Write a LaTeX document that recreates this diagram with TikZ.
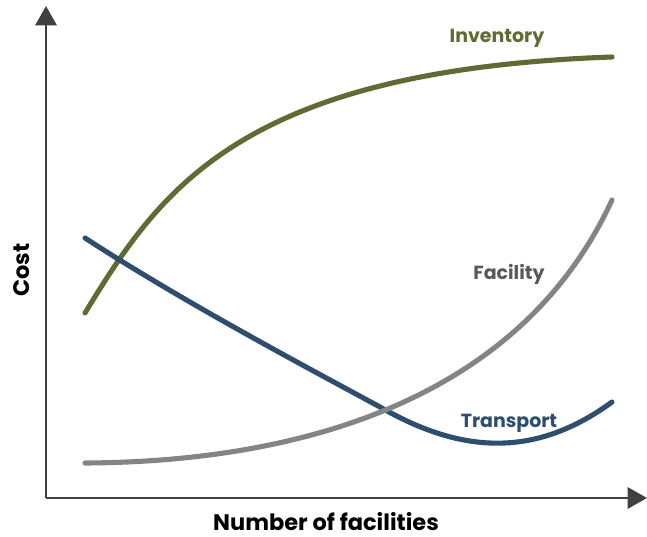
\documentclass[tikz,border=0pt]{standalone}
\usepackage{fontspec}
\setmainfont{Poppins}
\usetikzlibrary{arrows.meta}

\definecolor{invgreen}{HTML}{5E6B33}
\definecolor{transblue}{HTML}{2D4E6E}
\definecolor{facgray}{HTML}{848484}
\definecolor{axisgray}{HTML}{404040}

\begin{document}
\begin{tikzpicture}[x=0.02cm, y=-0.02cm,
  axisline/.style={draw=axisgray, line width=1.7pt, -{Triangle[width=12pt, length=11pt]}},
  costcurve/.style={line width=2.9pt, line cap=round},
  axislabel/.style={font=\bfseries\fontsize{12.8}{15}\selectfont},
  curvelabel/.style={font=\bfseries\fontsize{10.8}{13}\selectfont}]
\useasboundingbox (0,0) rectangle (647,537);

% axes
\coordinate (origin) at (46,498);
\coordinate (ytop) at (46,6);
\coordinate (xend) at (647,498);
\draw[axisline] (origin) -- (ytop);
\draw[axisline] (origin) -- (xend);

\node[axislabel, rotate=90] (costlbl) at (22,270) {Cost};
\node[axislabel] (xlbl) at (326,522) {Number of facilities};

% cost curves
\coordinate (inv0) at (85,313);
\coordinate (inv1) at (612,57);
\draw[costcurve, invgreen] (inv0) .. controls (160,190) and (240,70) .. (inv1);

\coordinate (tra0) at (85,238);
\coordinate (tra1) at (380,407);
\coordinate (tra2) at (612,402);
\draw[costcurve, transblue] (tra0) .. controls (185,303) and (310,369) .. (tra1)
  .. controls (455,450) and (530,462) .. (tra2);

\coordinate (fac0) at (85,463);
\coordinate (fac1) at (612,200);
\draw[costcurve, facgray] (fac0) .. controls (300,462) and (520,400) .. (fac1);

\node[curvelabel, text=invgreen] (invlbl) at (497,38) {Inventory};
\node[curvelabel, text=black!65] (faclbl) at (509,274) {Facility};
\node[curvelabel, text=transblue] (translbl) at (509,423) {Transport};
\end{tikzpicture}
\end{document}
